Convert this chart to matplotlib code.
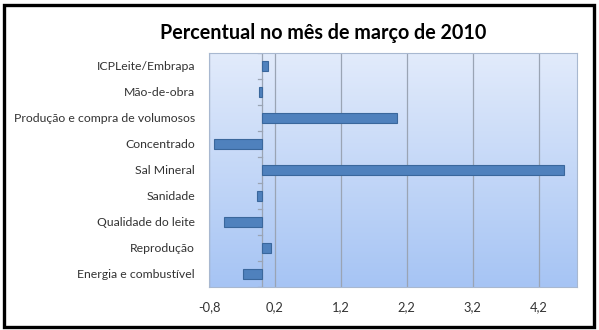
import numpy as np
import matplotlib
matplotlib.use("Agg")
import matplotlib.pyplot as plt
from matplotlib.patches import Rectangle
from matplotlib.colors import LinearSegmentedColormap

# data, top to bottom as in the chart
categories = ["ICPLeite/Embrapa", "Mão-de-obra", "Produção e compra de volumosos",
              "Concentrado", "Sal Mineral", "Sanidade", "Qualidade do leite",
              "Reprodução", "Energia e combustível"]
values = [0.09, -0.04, 2.05, -0.73, 4.58, -0.075, -0.58, 0.14, -0.29]
x_ticks = [-0.8, 0.2, 1.2, 2.2, 3.2, 4.2]
x_tick_labels = ["-0,8", "0,2", "1,2", "2,2", "3,2", "4,2"]
title = "Percentual no mês de março de 2010"

plt.rcParams['font.family'] = ['Lato', 'DejaVu Sans']

W, H = 599, 330
fig = plt.figure(figsize=(W / 100, H / 100), dpi=100)
fig.patch.set_facecolor("white")

L, R, T, B = 209, 577, 53, 287
ax = fig.add_axes([L / W, 1 - B / H, (R - L) / W, (B - T) / H])

xmin, xmax = -0.8, 4.78
n = len(categories)
ypos = np.arange(n)[::-1]

# gradient background
grad = np.linspace(0, 1, 256).reshape(-1, 1)
cmap = LinearSegmentedColormap.from_list("bg", ["#e2ebfb", "#a6c4f4"])
ax.imshow(grad, aspect="auto", cmap=cmap, extent=[xmin, xmax, -0.5, n - 0.5],
          origin="upper", zorder=0)

for xt in x_ticks:
    ax.axvline(xt, color="#9aa4b4", lw=0.9, zorder=1)
ax.axvline(0, color="#9aa4b4", lw=0.9, zorder=1)
# small category ticks on the zero axis
for k in range(n + 1):
    ax.plot([-0.06, 0], [k - 0.5, k - 0.5], color="#9aa4b4", lw=0.9, zorder=1)

ax.barh(ypos, values, height=0.4, color="#4f81bd", edgecolor="#3a679c",
        linewidth=0.8, zorder=3)

ax.set_xlim(xmin, xmax)
ax.set_ylim(-0.5, n - 0.5)
ax.set_xticks(x_ticks)
ax.set_xticklabels(x_tick_labels, fontsize=9.3, color="#333333")
ax.set_yticks(ypos)
ax.set_yticklabels(categories, fontsize=8.8, color="#333333")
ax.tick_params(axis="x", length=0, pad=10)
ax.tick_params(axis="y", length=0, pad=10)
for s in ax.spines.values():
    s.set_color("#a8b8d0")
    s.set_linewidth(0.8)

fig.text(323 / W, 1 - 33 / H, title, ha="center", va="center", fontsize=14.2,
         fontweight="bold", color="black")

fig.patches.append(Rectangle((3.5 / W, 3.5 / H), (594 - 4) / W, (326 - 4) / H,
                             transform=fig.transFigure, fill=False,
                             edgecolor="black", linewidth=2.4))

fig.savefig("out.png", dpi=100)
